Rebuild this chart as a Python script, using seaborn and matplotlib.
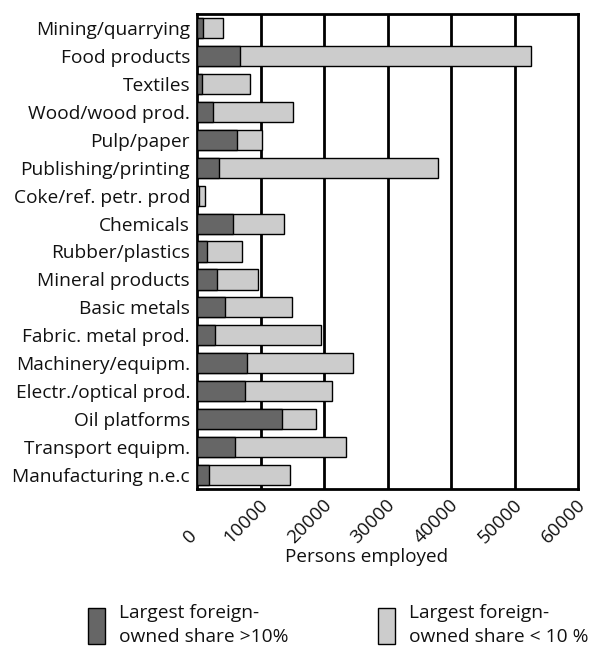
import matplotlib
matplotlib.use("Agg")
import matplotlib.pyplot as plt
import matplotlib.transforms as mtransforms
import seaborn as sns
import pandas as pd
from matplotlib.patches import Patch

categories = ["Mining/quarrying", "Food products", "Textiles", "Wood/wood prod.",
              "Pulp/paper", "Publishing/printing", "Coke/ref. petr. prod",
              "Chemicals", "Rubber/plastics", "Mineral products", "Basic metals",
              "Fabric. metal prod.", "Machinery/equipm.", "Electr./optical prod.",
              "Oil platforms", "Transport equipm.", "Manufacturing n.e.c"]
share_over_10 = [950, 6800, 740, 2570, 6250, 3510, 360, 5720, 1630, 3200, 4410,
                 2830, 7930, 7560, 13340, 5980, 1920]
share_under_10 = [3150, 45750, 7610, 12600, 4040, 34490, 850, 8030, 5410, 6460,
                  10600, 16700, 16690, 13650, 5350, 17480, 12730]
totals = [a + b for a, b in zip(share_over_10, share_under_10)]
xticks = [0, 10000, 20000, 30000, 40000, 50000, 60000]
legend_labels = ["Largest foreign-\nowned share >10%",
                 "Largest foreign-\nowned share < 10 %"]

df = pd.DataFrame({"cat": categories, "dark": share_over_10, "total": totals})

sns.set_theme(style="white")
plt.rcParams["font.family"] = ["Open Sans", "DejaVu Sans"]
FS = 13.8
FS_X = 13.6
TXT = "#111111"

fig = plt.figure(figsize=(6.05, 6.5), dpi=100)
ax = fig.add_axes([197/605, 1 - 489/650, (578-197)/605, (489-14)/650])

sns.barplot(data=df, x="total", y="cat", orient="h", color="#cccccc",
            edgecolor="black", linewidth=1, width=0.72, ax=ax, zorder=3,
            saturation=1)
sns.barplot(data=df, x="dark", y="cat", orient="h", color="#666666",
            edgecolor="black", linewidth=1, width=0.72, ax=ax, zorder=4,
            saturation=1)

ax.set_xlim(0, 60000)
ax.set_ylim(16.5, -0.5)
ax.set_xticks(xticks)
ax.set_xticklabels([])
ax.tick_params(axis="x", length=0)
ax.tick_params(axis="y", length=0, pad=5, labelsize=FS)
for lab in ax.get_yticklabels():
    lab.set_color(TXT)
ax.set_ylabel("")
ax.set_xlabel("Persons employed", fontsize=FS_X, color=TXT)
ax.xaxis.set_label_coords((367-197)/(578-197), -(557-489)/(489-14))
ax.xaxis.label.set_va("center")
for x in xticks[1:-1]:
    ax.axvline(x, color="black", linewidth=2, zorder=1)
for s in ax.spines.values():
    s.set_visible(True)
    s.set_color("black")
    s.set_linewidth(2)

# rotated x tick labels
blend = mtransforms.blended_transform_factory(ax.transData, ax.transAxes)
ylab = -(547 - 489) / (489 - 14)
tick_texts = [ax.text(t, ylab, str(t), transform=blend, rotation=45,
                      ha="left", va="bottom", fontsize=FS_X, color=TXT,
                      clip_on=False) for t in xticks]
fig.canvas.draw()
renderer = fig.canvas.get_renderer()
for txt in tick_texts:
    w = txt.get_window_extent(renderer).width
    dx = -1.5 - 0.75 * w
    txt.set_transform(blend + mtransforms.ScaledTranslation(dx / 100, 0,
                                                            fig.dpi_scale_trans))

fs_px = FS * 100 / 72
hh = (36 / fs_px - 0.245) / 0.65
colors = ["#666666", "#cccccc"]
xs = [88, 378]
for c, x0, lab in zip(colors, xs, legend_labels):
    leg = fig.legend([Patch(facecolor=c, edgecolor="black", linewidth=1)], [lab],
                     loc="center left", bbox_to_anchor=(x0/605, 1 - 625/650),
                     frameon=False, fontsize=FS, handlelength=17/fs_px,
                     handleheight=hh, handletextpad=0.75,
                     borderpad=0, borderaxespad=0, labelcolor=TXT)
    for t in leg.get_texts():
        t.set_linespacing(1.4)

fig.savefig("out.png", dpi=100)
